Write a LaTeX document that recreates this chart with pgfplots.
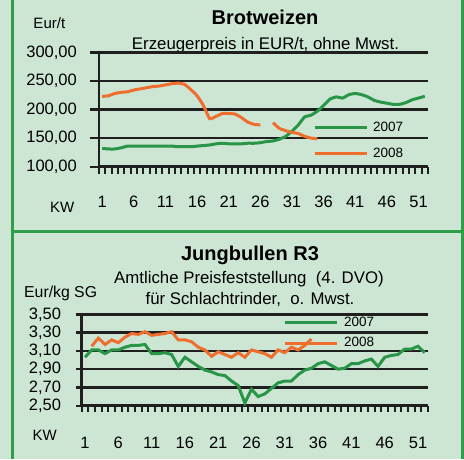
\documentclass[border=0pt]{standalone}
\usepackage{fontspec}
\setmainfont{Liberation Sans}
\usepackage{pgfplots}
\pgfplotsset{compat=1.18}
\definecolor{bg}{RGB}{205,230,212}
\definecolor{frame}{RGB}{46,158,72}
\definecolor{gline}{RGB}{40,150,70}
\definecolor{oline}{RGB}{240,110,45}
\pgfplotsset{
  common/.style={
    anchor=south west, scale only axis,
    axis x line*=bottom, axis y line*=left,
    axis line style={line width=2.6pt, black!88},
    xmin=0.5, xmax=52.5,
    xtick={1,6,...,51},
    xticklabels={1,6,11,16,21,26,31,36,41,46,51},
    minor xtick={0.5,1.5,...,52.5},
    major x tick style={draw=none},
    minor x tick style={line width=2pt, black!88},
    major y tick style={line width=2.4pt, black!88},
    tick align=outside,
    ymajorgrids,
    major grid style={line width=2.4pt, black!88},
    /pgf/number format/assume math mode=true,
    ticklabel style={font=\fontsize{16.5}{18}\selectfont},
    xticklabel style={anchor=base, inner sep=0pt},
    yticklabel style={anchor=east, inner sep=0pt},
    no markers,
    legend cell align=left,
    legend image code/.code={\draw[##1, line width=3pt] (0pt,0pt) -- (52pt,0pt);},
  }
}
\begin{document}
\begin{tikzpicture}
\fill[bg] (0pt,0pt) rectangle (464pt,459pt);
\path[use as bounding box] (0pt,0pt) rectangle (464pt,459pt);
\draw[frame, line width=3pt] (12.5pt,0pt) -- (12.5pt,459pt);
\draw[frame, line width=3pt] (462.5pt,0pt) -- (462.5pt,459pt);
\draw[frame, line width=3pt] (11pt,228pt) -- (464pt,228pt);

% Panel 1 texts
\node[font=\bfseries\fontsize{20}{22}\selectfont, anchor=base, inner sep=0pt] at (265pt,434pt) {Brotweizen};
\node[font=\fontsize{16.8}{19}\selectfont, anchor=base, inner sep=0pt] at (265.5pt,409.7pt) {Erzeugerpreis in EUR/t, ohne Mwst.};
\node[font=\fontsize{15}{18}\selectfont, anchor=base west, inner sep=0pt] at (33.3pt,430.7pt) {Eur/t};
\node[font=\fontsize{15}{18}\selectfont, anchor=base west, inner sep=0pt] at (50pt,246.7pt) {KW};

% Panel 2 texts
\node[font=\bfseries\fontsize{20}{22}\selectfont, anchor=base, inner sep=0pt] at (250pt,199pt) {Jungbullen R3};
\node[font=\fontsize{16.8}{19}\selectfont, anchor=base, inner sep=0pt] at (249pt,175.7pt) {Amtliche Preisfeststellung\ \ (4. DVO)};
\node[font=\fontsize{16.8}{19}\selectfont, anchor=base, inner sep=0pt] at (250pt,155pt) {für Schlachtrinder,\ \ o. Mwst.};
\node[font=\fontsize{15.8}{18}\selectfont, anchor=base west, inner sep=0pt] at (24pt,161.3pt) {Eur/kg SG};
\node[font=\fontsize{15}{18}\selectfont, anchor=base west, inner sep=0pt] at (32.3pt,19pt) {KW};

\begin{axis}[common,
  at={(99pt,292.3pt)}, width=329pt, height=114.4pt,
  ymin=100, ymax=300,
  ytick={100,150,200,250,300},
  yticklabels={{100,00},{150,00},{200,00},{250,00},{300,00}},
  major tick length=9pt, minor tick length=7pt,
  xticklabel style={yshift=-32pt},
  yticklabel style={xshift=-13pt},
  legend style={at={(0.65,0.225)}, anchor=west, draw=none, fill=none, inner sep=0pt,
    row sep=13pt, column sep=5pt, font=\fontsize{13.5}{15}\selectfont,
    nodes={inner sep=0pt, text height=10pt, text depth=3pt}},
]
\addplot[gline, line width=3pt, smooth, tension=0.3] coordinates {
(1,132)(2,131)(3,131)(4,133)(5,136)(6,136)(7,136)(8,136)(9,136)(10,136)(11,136)(12,136)(13,135)(14,135)(15,135)(16,136)(17,137)(18,138)(19,140)(20,141)(21,140)(22,140)(23,140)(24,141)(25,141)(26,142)(27,144)(28,145)(29,148)(30,153)(31,162)(32,173)(33,187)(34,190)(35,197)(36,207)(37,218)(38,222)(39,220)(40,226)(41,228)(42,226)(43,222)(44,216)(45,213)(46,211)(47,209)(48,209)(49,212)(50,217)(51,220)(52,223)};
\addplot[oline, line width=3pt, smooth, tension=0.3] coordinates {
(1,223)(2,224)(3,228)(4,230)(5,231)(6,234)(7,236)(8,238)(9,240)(10,241)(11,243)(12,245)(13,246)(14,244)(15,235)(16,224)(17,207)(18,184)(19,188)(20,193)(21,193)(22,192)(23,186)(24,178)(25,174)(26,173)};
\addplot[oline, line width=3pt, smooth, tension=0.3, forget plot] coordinates {
(28,177)(29,167)(30,163)(31,160)(32,158)(33,153)(34,150)(35,149)};
\legend{2007,2008}
\end{axis}

\begin{axis}[common,
  at={(81.7pt,53.3pt)}, width=346.3pt, height=91.4pt,
  ymin=2.5, ymax=3.5,
  ytick={2.5,2.7,2.9,3.1,3.3,3.5},
  yticklabels={{2,50},{2,70},{2,90},{3,10},{3,30},{3,50}},
  major tick length=5.5pt, minor tick length=6pt,
  xticklabel style={yshift=-37pt},
  yticklabel style={xshift=-15pt},
  legend style={at={(0.581,0.795)}, anchor=west, draw=none, fill=none, inner sep=0pt,
    row sep=7.6pt, column sep=6pt, font=\fontsize{13.5}{15}\selectfont,
    nodes={inner sep=0pt, text height=10pt, text depth=3pt}},
]
\addplot[gline, line width=3pt] coordinates {
(1,3.03)(2,3.11)(3,3.11)(4,3.07)(5,3.11)(6,3.11)(7,3.14)(8,3.16)(9,3.16)(10,3.17)(11,3.07)(12,3.07)(13,3.08)(14,3.06)(15,2.93)(16,3.03)(17,2.98)(18,2.93)(19,2.89)(20,2.87)(21,2.84)(22,2.83)(23,2.77)(24,2.72)(25,2.53)(26,2.68)(27,2.60)(28,2.63)(29,2.69)(30,2.75)(31,2.77)(32,2.77)(33,2.84)(34,2.89)(35,2.91)(36,2.96)(37,2.98)(38,2.94)(39,2.90)(40,2.91)(41,2.96)(42,2.96)(43,2.99)(44,3.01)(45,2.93)(46,3.03)(47,3.05)(48,3.06)(49,3.12)(50,3.12)(51,3.15)(52,3.08)};
\addplot[oline, line width=3pt] coordinates {
(2,3.15)(3,3.24)(4,3.17)(5,3.22)(6,3.19)(7,3.25)(8,3.29)(9,3.28)(10,3.31)(11,3.27)(12,3.28)(13,3.29)(14,3.31)(15,3.22)(16,3.22)(17,3.20)(18,3.14)(19,3.11)(20,3.04)(21,3.09)(22,3.06)(23,3.03)(24,3.08)(25,3.03)(26,3.11)(27,3.09)(28,3.07)(29,3.03)(30,3.11)(31,3.08)(32,3.14)(33,3.11)(34,3.16)(35,3.23)};
\legend{2007,2008}
\end{axis}
\end{tikzpicture}
\end{document}
